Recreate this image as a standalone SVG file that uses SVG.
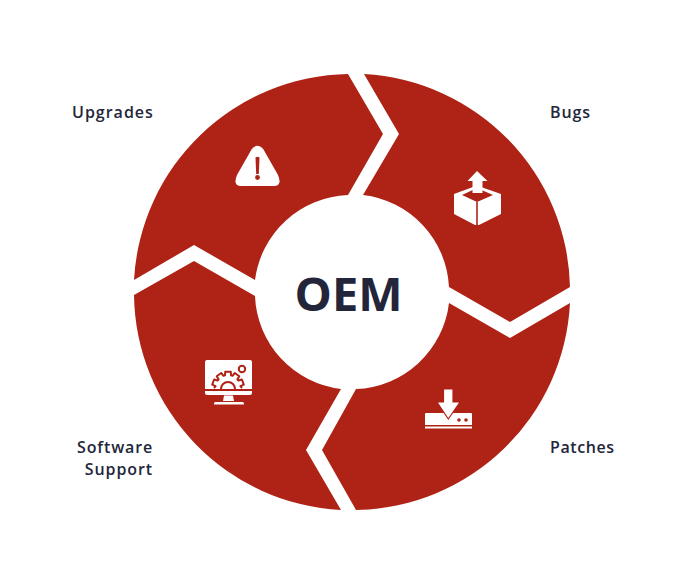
<svg xmlns="http://www.w3.org/2000/svg" width="682" height="566" viewBox="0 0 682 566">
<style>
.seg{fill:#ae2316}
.ico{fill:#fff}
.cut{fill:#ae2316}
.ln{fill:none;stroke:#ae2316;stroke-width:2;stroke-linejoin:round}
.lb{font-family:"Open Sans","Noto Sans",sans-serif;font-weight:600;font-size:16px;fill:#23263a}
.ttl{font-family:"Open Sans","Noto Sans",sans-serif;font-weight:700;font-size:47px;fill:#23263a}
</style>
<rect width="682" height="566" fill="#fff"/>
<g id="segment-upgrades">
<path class="seg" d="M348 74A218 218 0 0 0 134 280L194 245L255 280A97.500 97.500 0 0 1 348 195L383 134Z"/>
<path class="ico" d="M251.500 149.500Q257.500 142 263.500 149.500L278 175Q282.500 186 274 186H241Q232.500 186 237 175Z"/>
<path class="cut" d="M255.500 157.500Q257.500 156 259.500 157.500L258.800 174H256.200Z"/><circle class="cut" cx="257.500" cy="177.500" r="2.400"/>
<text class="lb" x="72" y="118" letter-spacing="1">Upgrades</text>
</g>
<g id="segment-bugs">
<path class="seg" d="M364 74A218 218 0 0 1 570 287L510 322L449 287A97.500 97.500 0 0 0 363 195L399 134Z"/>
<path class="ico" d="M454 194L473 187H481L501 194V214L479 225H475L454 214Z"/>
<path class="cut" d="M462 195L477 188L493 195L477 202Z"/>
<path class="ln" style="stroke-width:1.600" d="M477 202V226"/>
<path class="ico" d="M477 171L487.500 181H482.500V193H472.500V181H467.500Z"/>
<text class="lb" x="550" y="118" letter-spacing=".85">Bugs</text>
</g>
<g id="segment-patches">
<path class="seg" d="M570 303A218 218 0 0 1 356 510L322 450L356 389A97.500 97.500 0 0 0 449 303L510 338Z"/>
<path class="ico" d="M426 413H471Q472 413 472 414V425H425V414Q425 413 426 413ZM425 426.500H472V428.500H425Z"/>
<path class="ico" style="stroke:#ae2316;stroke-width:1.200" d="M443.500 389H453V402H460L448.300 419L437 402H443.500Z"/>
<circle class="cut" cx="459" cy="420" r="1.800"/><circle class="cut" cx="466" cy="420" r="1.800"/>
<text class="lb" x="550" y="453" letter-spacing=".6">Patches</text>
</g>
<g id="segment-software">
<path class="seg" d="M341 510A218 218 0 0 1 134 295L194 261L255 296A97.500 97.500 0 0 0 341 389L306 450Z"/>
<path class="ico" d="M207 360H250Q252 360 252 362V389H205V362Q205 360 207 360ZM205 391H252V393Q252 395 250 395H207Q205 395 205 393ZM224 395.500H233L234 401H223ZM215 402H243Q244 402 244 404.500H214Q214 402 215 402Z"/>
<path class="ln" d="M214 388L215.600 386.200L212.200 384.700L214.100 379.500L217.600 380.500L218.600 379.300L216.700 376.200L221.200 373L223.500 375.800L225 375.400L225.200 371.700H230.800L231 375.400L232.500 375.800L234.800 373L239.300 376.200L237.400 379.300L238.400 380.500L241.900 379.500L243.800 384.700L240.400 386.200L242 388"/>
<path class="ln" d="M221 389A7 7 0 0 1 235 389"/>
<circle class="ln" cx="242" cy="369" r="3.200"/>
<text class="lb" x="153" y="453" text-anchor="end" letter-spacing=".85">Software</text>
<text class="lb" x="153" y="475" text-anchor="end" letter-spacing=".9">Support</text>
</g>
<g id="center"><text class="ttl" x="348.500" y="311" text-anchor="middle">OEM</text></g>
<g id="connectors"/>
</svg>
